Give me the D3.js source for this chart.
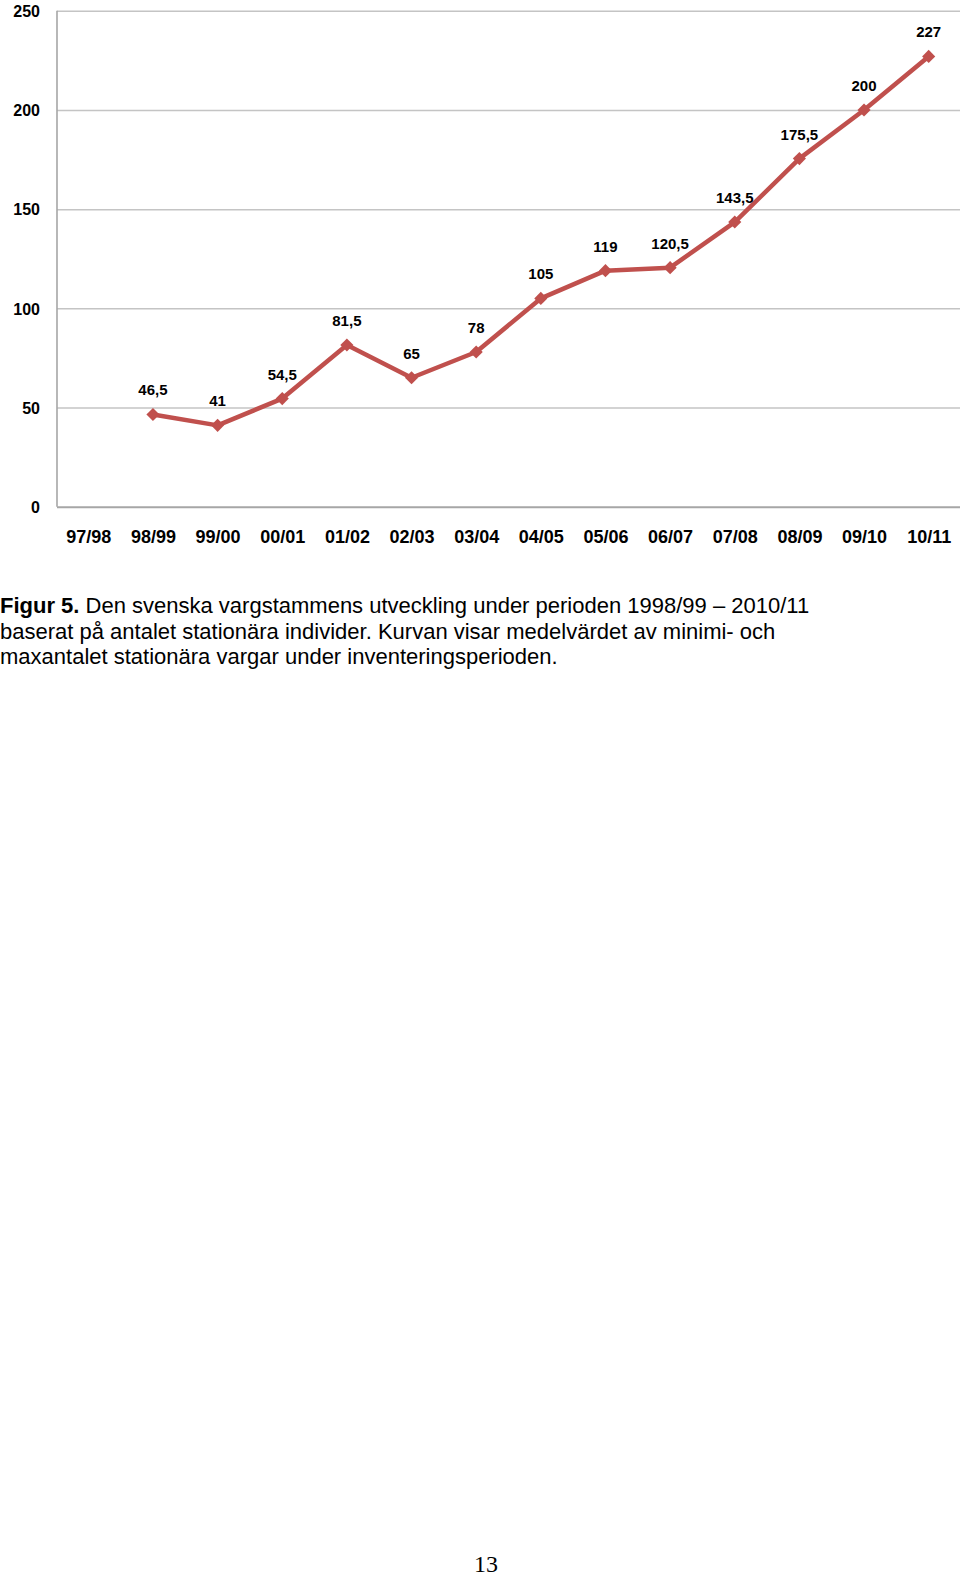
<!DOCTYPE html>
<html>
<head>
<meta charset="utf-8">
<script src="https://cdnjs.cloudflare.com/ajax/libs/d3/7.8.5/d3.min.js"></script>
<style>
  html, body { margin: 0; padding: 0; background: #fff; }
  svg { display: block; }
  .tick text { font-family: "Liberation Sans", Arial, sans-serif; font-weight: bold; fill: #000; }
  .valueLabel { font-family: "Liberation Sans", Arial, sans-serif; font-weight: bold; font-size: 15px; fill: #000; }
  .caption { font-family: "Liberation Sans", Arial, sans-serif; font-size: 22px; fill: #000; }
  .pageNo { font-family: "Liberation Serif", "Times New Roman", serif; font-size: 24px; fill: #000; }
</style>
</head>
<body>
<script>
var seasons = ["97/98", "98/99", "99/00", "00/01", "01/02", "02/03", "03/04",
               "04/05", "05/06", "06/07", "07/08", "08/09", "09/10", "10/11"];
// medelvärde av min- och maxantal stationära vargar (ingen uppgift för 97/98)
var wolves = [null, 46.5, 41, 54.5, 81.5, 65, 78, 105, 119, 120.5, 143.5, 175.5, 200, 227];
var yTicks = [0, 50, 100, 150, 200, 250];
var captionLines = [
  ["Figur 5.", " Den svenska vargstammens utveckling under perioden 1998/99 \u2013 2010/11"],
  ["", "baserat på antalet stationära individer. Kurvan visar medelvärdet av minimi- och"],
  ["", "maxantalet stationära vargar under inventeringsperioden."]
];
var pageNumber = "13";

var _width = 960;
var _height = 1576;
var _lineColor = "#c0504d";

var svLocale = d3.formatLocale({decimal: ",", thousands: " ", grouping: [3], currency: ["", " kr"]});
var fmt = svLocale.format("~g");

var _svg = d3.select(document.body)
    .append("svg")
    .attr("width", _width)
    .attr("height", _height)
    .attr("xmlns", "http://www.w3.org/2000/svg");

var _xScale = d3.scalePoint().domain(seasons).range([56, 961]).padding(0.5);
var _yScale = d3.scaleLinear().domain([0, 250]).range([506.7, 10.8]);

// gridlines + y labels
var yAxis = d3.axisLeft(_yScale)
    .tickValues(yTicks)
    .tickSize(-(_width - 57))
    .tickPadding(17)
    .tickFormat(d3.format("d"));

_svg.append("g")
    .attr("class", "y axis")
    .attr("transform", "translate(57,0)")
    .call(yAxis)
    .call(function(g) {
      g.select(".domain").remove();
      g.selectAll(".tick line")
          .attr("stroke", function(d) { return d === 0 ? "#a6a6a6" : "#c4c4c4"; })
          .attr("stroke-width", function(d) { return d === 0 ? 2 : 1.5; });
      g.selectAll(".tick text").attr("font-size", 16).attr("dy", "0.36em");
    });

// left axis line
_svg.append("line")
    .attr("x1", 57).attr("x2", 57)
    .attr("y1", _yScale(250)).attr("y2", _yScale(0))
    .attr("stroke", "#a6a6a6")
    .attr("stroke-width", 1.6);

// x labels
var xAxis = d3.axisBottom(_xScale).tickSize(0).tickPadding(24);
_svg.append("g")
    .attr("class", "x axis")
    .attr("transform", "translate(0," + _yScale(0) + ")")
    .call(xAxis)
    .call(function(g) {
      g.select(".domain").remove();
      g.selectAll(".tick text").attr("font-size", 18);
    });

var points = seasons.map(function(s, i) { return {season: s, value: wolves[i]}; })
    .filter(function(d) { return d.value !== null; });

var line = d3.line()
    .x(function(d) { return _xScale(d.season); })
    .y(function(d) { return _yScale(d.value); });

_svg.append("path")
    .datum(points)
    .attr("fill", "none")
    .attr("stroke", _lineColor)
    .attr("stroke-width", 4.5)
    .attr("stroke-linejoin", "round")
    .attr("d", line);

_svg.append("g").selectAll("path.marker")
    .data(points)
    .enter()
    .append("path")
    .attr("class", "marker")
    .attr("transform", function(d) {
      return "translate(" + _xScale(d.season) + "," + _yScale(d.value) + ")";
    })
    .attr("d", d3.symbol().type(d3.symbolDiamond2).size(110))
    .attr("fill", _lineColor);

_svg.append("g").selectAll("text.valueLabel")
    .data(points)
    .enter()
    .append("text")
    .attr("class", "valueLabel")
    .attr("text-anchor", "middle")
    .attr("x", function(d) { return _xScale(d.season); })
    .attr("y", function(d) { return _yScale(d.value) - 19; })
    .text(function(d) { return fmt(d.value); });

// caption
var caption = _svg.append("g").attr("class", "captionGroup");
captionLines.forEach(function(parts, i) {
  var t = caption.append("text")
      .attr("class", "caption")
      .attr("x", 0)
      .attr("y", 613 + i * 25.5);
  if (parts[0]) t.append("tspan").attr("font-weight", "bold").text(parts[0]);
  t.append("tspan").text(parts[1]);
});

_svg.append("text")
    .attr("class", "pageNo")
    .attr("x", 486)
    .attr("y", 1572)
    .attr("text-anchor", "middle")
    .text(pageNumber);
</script>
</body>
</html>
